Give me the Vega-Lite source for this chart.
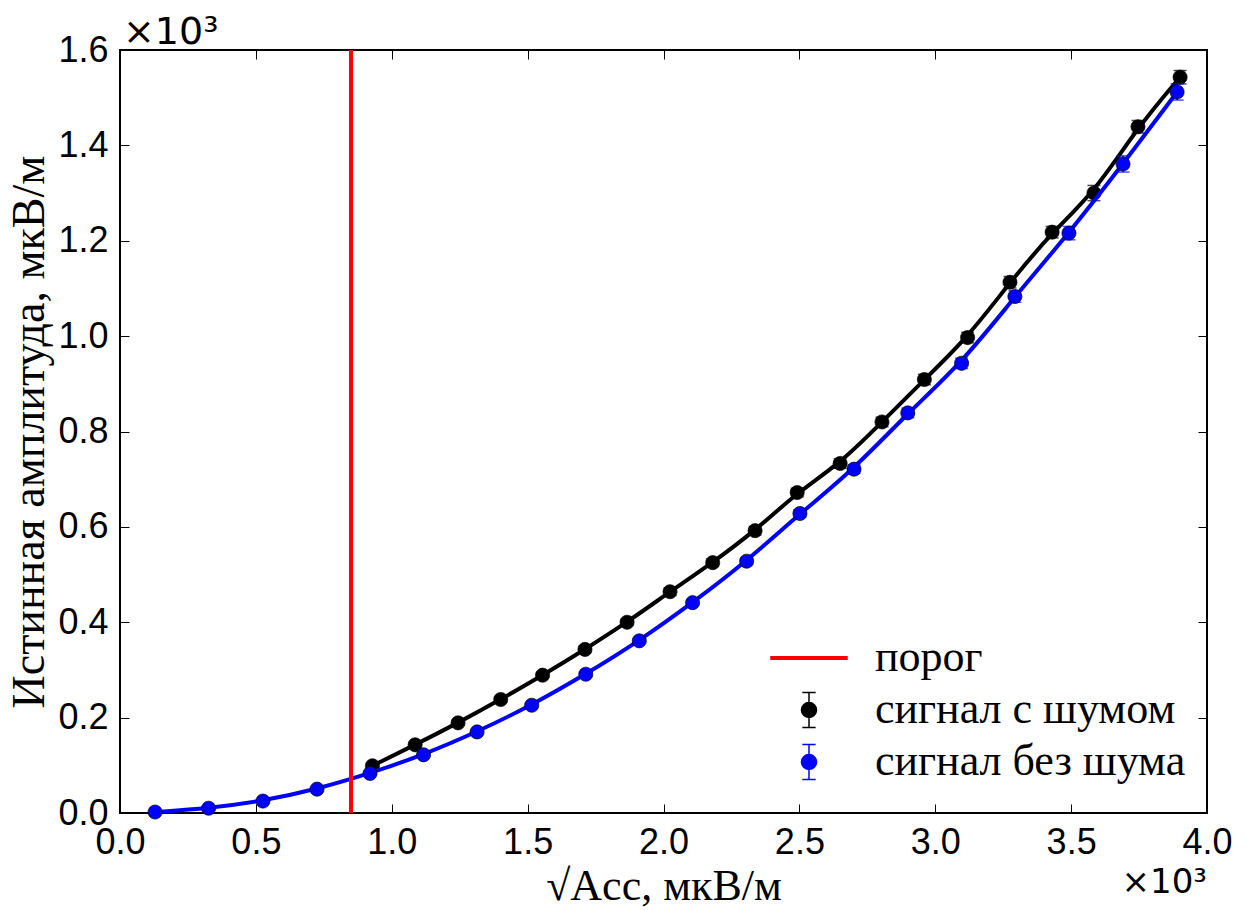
{
  "$schema": "https://vega.github.io/schema/vega-lite/v6.json",
  "width": 1087,
  "height": 763,
  "autosize": {"type": "none"},
  "padding": {"left": 120, "top": 50, "right": 43, "bottom": 97},
  "background": "white",
  "config": {
    "view": {"stroke": "black", "strokeWidth": 2},
    "axis": {
      "grid": false,
      "domain": false,
      "ticks": true,
      "tickSize": -9,
      "tickColor": "black",
      "tickWidth": 1,
      "labelFont": "Liberation Sans",
      "labelFontSize": 36,
      "labelColor": "black",
      "labelPadding": 21,
      "labelFlush": false,
      "labelOverlap": false,
      "titleFont": "Liberation Serif",
      "titleFontSize": 46,
      "titleFontWeight": "normal",
      "titleColor": "black"
    },
    "legend": {
      "symbolSize": 1225,
      "symbolStrokeWidth": 1.5,
      "labelFont": "Liberation Serif",
      "labelFontSize": 44,
      "labelColor": "black",
      "labelOffset": 44,
      "rowPadding": 8,
      "padding": 0,
      "labelLimit": 600
    }
  },
  "datasets": {
    "noisy": [
      {"x": 929, "y": 99, "err": 4},
      {"x": 1086, "y": 143, "err": 5},
      {"x": 1244, "y": 189, "err": 5},
      {"x": 1401, "y": 238, "err": 6},
      {"x": 1555, "y": 289, "err": 6},
      {"x": 1711, "y": 343, "err": 7},
      {"x": 1866, "y": 400, "err": 7},
      {"x": 2024, "y": 464, "err": 8},
      {"x": 2181, "y": 525, "err": 8},
      {"x": 2337, "y": 592, "err": 9},
      {"x": 2492, "y": 672, "err": 9},
      {"x": 2650, "y": 733, "err": 10},
      {"x": 2804, "y": 820, "err": 10},
      {"x": 2960, "y": 909, "err": 11},
      {"x": 3119, "y": 997, "err": 11},
      {"x": 3275, "y": 1113, "err": 12},
      {"x": 3430, "y": 1218, "err": 12},
      {"x": 3584, "y": 1300, "err": 16},
      {"x": 3746, "y": 1439, "err": 13},
      {"x": 3901, "y": 1543, "err": 14}
    ],
    "clean": [
      {"x": 129, "y": 2, "err": 1},
      {"x": 326, "y": 10, "err": 1},
      {"x": 526, "y": 25, "err": 2},
      {"x": 725, "y": 50, "err": 2},
      {"x": 920, "y": 83, "err": 3},
      {"x": 1117, "y": 122, "err": 3},
      {"x": 1314, "y": 170, "err": 4},
      {"x": 1515, "y": 226, "err": 4},
      {"x": 1714, "y": 291, "err": 5},
      {"x": 1911, "y": 361, "err": 5},
      {"x": 2107, "y": 441, "err": 6},
      {"x": 2306, "y": 528, "err": 7},
      {"x": 2502, "y": 628, "err": 8},
      {"x": 2701, "y": 721, "err": 9},
      {"x": 2899, "y": 839, "err": 10},
      {"x": 3097, "y": 943, "err": 11},
      {"x": 3293, "y": 1083, "err": 12},
      {"x": 3492, "y": 1216, "err": 14},
      {"x": 3691, "y": 1361, "err": 17},
      {"x": 3890, "y": 1512, "err": 17}
    ],
    "thr": [{"x": 850}],
    "offTop": [{"x": 0, "y": 1600, "t": "×10³"}],
    "offBottom": [{"x": 4000, "y": 0, "t": "×10³"}],
    "legendItems": [
      {"series": "порог"},
      {"series": "сигнал с шумом"},
      {"series": "сигнал без шума"}
    ]
  },
  "layer": [
    {
      "data": {"name": "noisy"},
      "mark": {"type": "line", "color": "black", "strokeWidth": 4, "interpolate": "basis"},
      "encoding": {
        "x": {
          "field": "x", "type": "quantitative",
          "scale": {"domain": [0, 4000], "nice": false, "zero": false},
          "axis": {
            "orient": "bottom",
            "values": [0, 500, 1000, 1500, 2000, 2500, 3000, 3500, 4000],
            "labelExpr": "format(datum.value/1000, '.1f')",
            "title": "√Acc, мкВ/м",
            "titleFontSize": 44,
            "titlePadding": 4
          }
        },
        "y": {
          "field": "y", "type": "quantitative",
          "scale": {"domain": [0, 1600], "nice": false, "zero": false},
          "axis": {
            "orient": "left",
            "values": [0, 200, 400, 600, 800, 1000, 1200, 1400, 1600],
            "labelExpr": "format(datum.value/1000, '.1f')",
            "title": "Истинная амплитуда, мкВ/м",
            "titlePadding": 4
          }
        }
      }
    },
    {
      "data": {"name": "noisy"},
      "mark": {"type": "errorbar", "color": "black", "thickness": 1.5, "ticks": {"size": 13, "thickness": 1.5, "color": "black"}},
      "encoding": {
        "x": {"field": "x", "type": "quantitative", "axis": null},
        "y": {"field": "y", "type": "quantitative", "axis": null},
        "yError": {"field": "err"}
      }
    },
    {
      "data": {"name": "noisy"},
      "mark": {"type": "point", "filled": true, "size": 200, "fill": "black", "stroke": "black", "strokeWidth": 0.7, "opacity": 1},
      "encoding": {
        "x": {"field": "x", "type": "quantitative", "axis": null},
        "y": {"field": "y", "type": "quantitative", "axis": null}
      }
    },
    {
      "data": {"name": "clean"},
      "mark": {"type": "line", "color": "#0000ff", "strokeWidth": 4, "interpolate": "basis"},
      "encoding": {
        "x": {
          "field": "x", "type": "quantitative",
          "scale": {"domain": [0, 4000], "nice": false, "zero": false},
          "axis": {"orient": "top", "values": [0, 500, 1000, 1500, 2000, 2500, 3000, 3500, 4000], "labels": false, "title": null}
        },
        "y": {
          "field": "y", "type": "quantitative",
          "scale": {"domain": [0, 1600], "nice": false, "zero": false},
          "axis": {"orient": "right", "values": [0, 200, 400, 600, 800, 1000, 1200, 1400, 1600], "labels": false, "title": null}
        }
      }
    },
    {
      "data": {"name": "clean"},
      "mark": {"type": "errorbar", "color": "#0000ff", "thickness": 1.5, "ticks": {"size": 13, "thickness": 1.5, "color": "#0000ff"}},
      "encoding": {
        "x": {"field": "x", "type": "quantitative", "axis": null},
        "y": {"field": "y", "type": "quantitative", "axis": null},
        "yError": {"field": "err"}
      }
    },
    {
      "data": {"name": "clean"},
      "mark": {"type": "point", "filled": true, "size": 200, "fill": "#0000ff", "stroke": "black", "strokeWidth": 0.7, "opacity": 1},
      "encoding": {
        "x": {"field": "x", "type": "quantitative", "axis": null},
        "y": {"field": "y", "type": "quantitative", "axis": null}
      }
    },
    {
      "data": {"name": "thr"},
      "mark": {"type": "rule", "color": "#ff0000", "strokeWidth": 4},
      "encoding": {
        "x": {"field": "x", "type": "quantitative", "axis": null}
      }
    },
    {
      "data": {"name": "offTop"},
      "mark": {"type": "text", "align": "left", "baseline": "alphabetic", "dx": 3, "dy": -6, "font": "DejaVu Sans", "fontSize": 38, "color": "black"},
      "encoding": {
        "x": {"field": "x", "type": "quantitative", "axis": null},
        "y": {"field": "y", "type": "quantitative", "axis": null},
        "text": {"field": "t"}
      }
    },
    {
      "data": {"name": "offBottom"},
      "mark": {"type": "text", "align": "right", "baseline": "alphabetic", "dx": 0, "dy": 80, "font": "DejaVu Sans", "fontSize": 34, "color": "black"},
      "encoding": {
        "x": {"field": "x", "type": "quantitative", "axis": null},
        "y": {"field": "y", "type": "quantitative", "axis": null},
        "text": {"field": "t"}
      }
    },
    {
      "data": {"name": "legendItems"},
      "mark": {"type": "point", "filled": true, "size": 0, "opacity": 1},
      "encoding": {
        "fill": {
          "field": "series", "type": "nominal",
          "scale": {"domain": ["порог", "сигнал с шумом", "сигнал без шума"], "range": ["#ff0000", "black", "#0000ff"]},
          "legend": {"title": null, "orient": "none", "legendX": 667, "legendY": 586}
        },
        "stroke": {
          "field": "series", "type": "nominal",
          "scale": {"domain": ["порог", "сигнал с шумом", "сигнал без шума"], "range": ["#ff0000", "black", "#0000ff"]},
          "legend": {"title": null, "orient": "none", "legendX": 667, "legendY": 586}
        },
        "shape": {
          "field": "series", "type": "nominal",
          "scale": {
            "domain": ["порог", "сигнал с шумом", "сигнал без шума"],
            "range": [
              "M-2.17,-0.07L2.17,-0.07L2.17,0.07L-2.17,0.07Z",
              "M0,-1L0,1M-0.38,-1L0.38,-1M-0.38,1L0.38,1M0.43,0A0.43,0.43,0,1,1,-0.43,0A0.43,0.43,0,1,1,0.43,0Z",
              "M0,-1L0,1M-0.38,-1L0.38,-1M-0.38,1L0.38,1M0.43,0A0.43,0.43,0,1,1,-0.43,0A0.43,0.43,0,1,1,0.43,0Z"
            ]
          },
          "legend": {"title": null, "orient": "none", "legendX": 667, "legendY": 586}
        }
      }
    }
  ],
  "resolve": {"axis": {"x": "independent", "y": "independent"}}
}
